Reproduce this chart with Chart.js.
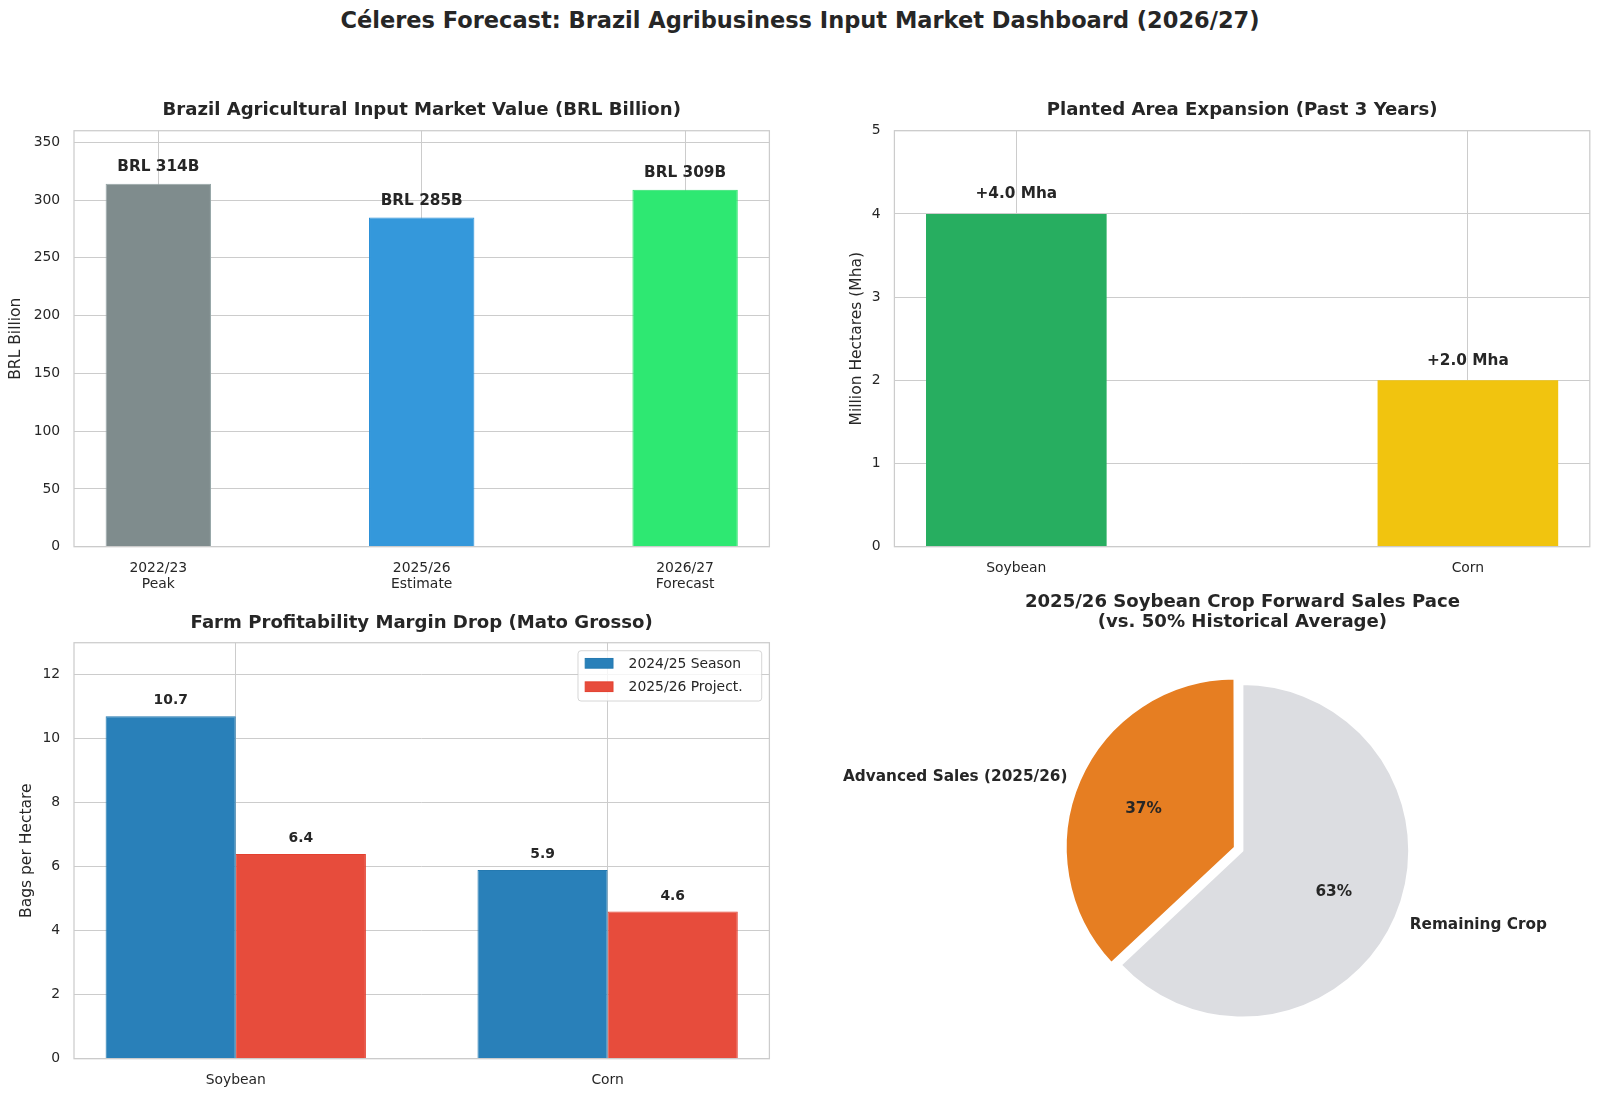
<!DOCTYPE html>
<html>
<head>
<meta charset="utf-8">
<script src="https://cdn.jsdelivr.net/npm/chart.js@4.4.1/dist/chart.umd.min.js"></script>
<style>
  html, body { margin: 0; padding: 0; background: #fff; }
  body { width: 1600px; height: 1098px; position: relative; overflow: hidden; font-family: 'DejaVu Sans', sans-serif; }
  #suptitle { position: absolute; left: 0; top: 7px; width: 1600px; text-align: center; font-weight: bold; font-size: 22.5px; line-height: 26px; color: #262626; }
  canvas { position: absolute; }
</style>
</head>
<body>
<div id="suptitle">Céleres Forecast: Brazil Agribusiness Input Market Dashboard (2026/27)</div>
<canvas id="c-market" width="800" height="510" style="left:0;top:90px"></canvas>
<canvas id="c-area" width="800" height="510" style="left:800px;top:90px"></canvas>
<canvas id="c-margin" width="800" height="508" style="left:0;top:590px"></canvas>
<canvas id="c-sales" width="800" height="508" style="left:800px;top:590px"></canvas>
<script>
/* ── Data ─────────────────────────────────────────────────────── */
const marketSeasons = ['2022/23\nPeak', '2025/26\nEstimate', '2026/27\nForecast'];
const marketValues = [314, 285, 309];
const marketColors = ['#7f8c8d', '#3498db', '#2ee872'];
const marketEdges = ['#95a5a6', '#2a90d8', '#2de06c'];

const areaCrops = ['Soybean', 'Corn'];
const areaGrowth = [4.0, 2.0];
const areaColors = ['#27ae60', '#f1c40f'];

const marginCrops = ['Soybean', 'Corn'];
const marginSeries = ['2024/25 Season', '2025/26 Project.'];
const margin2425 = [10.7, 5.9];
const margin2526 = [6.4, 4.6];

const salesLabels = ['Advanced Sales (2025/26)', 'Remaining Crop'];
const salesShares = [37, 63];
const salesColors = ['#e67e22', '#dcdde1'];

/* ── Shared style ─────────────────────────────────────────────── */
const ink = '#262626';
const gridGray = '#cccccc';
const family = "'DejaVu Sans', sans-serif";
Chart.defaults.font.family = family;
Chart.defaults.color = ink;
Chart.defaults.animation = false;

function frame() {
    return {
        id: 'frame',
        afterDatasetsDraw(chart) {
            const { ctx, chartArea: a } = chart;
            ctx.save();
            ctx.strokeStyle = gridGray;
            ctx.lineWidth = 1.25;
            ctx.strokeRect(a.left, a.top, a.right - a.left, a.bottom - a.top);
            ctx.restore();
        }
    };
}

function barLabels(format, size, gap) {
    return {
        id: 'barLabels',
        afterDatasetsDraw(chart) {
            const ctx = chart.ctx;
            ctx.save();
            ctx.font = `bold ${size}px ${family}`;
            ctx.fillStyle = ink;
            ctx.textAlign = 'center';
            ctx.textBaseline = 'middle';
            chart.data.datasets.forEach((ds, di) => {
                chart.getDatasetMeta(di).data.forEach((bar, i) => {
                    ctx.fillText(format(ds.data[i].y), bar.x, bar.y - gap);
                });
            });
            ctx.restore();
        }
    };
}

function xAxis(labels, min, max, height) {
    return {
        type: 'linear', min, max, offset: false,
        afterBuildTicks: s => { s.ticks = labels.map((_, i) => ({ value: i })); },
        afterFit: s => { s.height = height; },
        ticks: { callback: v => labels[v].split('\n'), font: { size: 13.9 }, color: ink, padding: 13, autoSkip: false, maxRotation: 0 },
        grid: { color: gridGray, drawTicks: false, offset: false },
        border: { display: false }
    };
}

function yAxis(max, step, width, text, titlePad) {
    return {
        min: 0, max,
        afterFit: s => { s.width = width; },
        ticks: { stepSize: step, includeBounds: false, font: { size: 13.9 }, color: ink, padding: 13.8 },
        grid: { color: gridGray, drawTicks: false },
        border: { display: false },
        title: { display: true, text, font: { size: 15.5 }, color: ink, padding: { top: titlePad, bottom: 0 } }
    };
}

function plotTitle(text, top, bottom, lineHeight = 1.2) {
    return { display: true, fullSize: false, text, font: { size: 18.1, weight: 'bold', lineHeight }, color: ink, padding: { top, bottom } };
}

const points = vals => vals.map((v, i) => ({ x: i, y: v }));

/* ── Input market value ───────────────────────────────────────── */
new Chart(document.getElementById('c-market'), {
    type: 'bar',
    data: {
        datasets: [{
            data: points(marketValues),
            backgroundColor: marketColors, borderColor: marketEdges, borderWidth: 1,
            barPercentage: 0.4, categoryPercentage: 1
        }]
    },
    options: {
        responsive: false, devicePixelRatio: 1,
        layout: { padding: { left: 0, right: 30.6, top: 0, bottom: 0 } },
        plugins: {
            legend: { display: false }, tooltip: { enabled: false },
            title: plotTitle('Brazil Agricultural Input Market Value (BRL Billion)', 9.1, 9.9)
        },
        scales: {
            x: xAxis(marketSeasons, -0.32, 2.32, 53.3),
            y: yAxis(360, 50, 74, 'BRL Billion', 7)
        }
    },
    plugins: [frame(), barLabels(v => `BRL ${v}B`, 15.3, 16.4)]
});

/* ── Planted area ─────────────────────────────────────────────── */
new Chart(document.getElementById('c-area'), {
    type: 'bar',
    data: {
        datasets: [{
            data: points(areaGrowth),
            backgroundColor: areaColors, borderWidth: 0,
            barPercentage: 0.4, categoryPercentage: 1
        }]
    },
    options: {
        responsive: false, devicePixelRatio: 1,
        layout: { padding: { left: 0, right: 10.2, top: 0, bottom: 0 } },
        plugins: {
            legend: { display: false }, tooltip: { enabled: false },
            title: plotTitle('Planted Area Expansion (Past 3 Years)', 9.1, 9.9)
        },
        scales: {
            x: xAxis(areaCrops, -0.27, 1.27, 53.3),
            y: yAxis(5, 1, 94.4, 'Million Hectares (Mha)', 47.8)
        }
    },
    plugins: [frame(), barLabels(v => `+${v.toFixed(1)} Mha`, 15.3, 19.5)]
});

/* ── Farm margin ──────────────────────────────────────────────── */
const marginLegend = {
    id: 'marginLegend',
    afterDraw(chart) {
        const { ctx, chartArea: a } = chart;
        const w = 183.7, h = 50.3;
        const left = a.right - 7.7 - w, top = a.top + 8;
        ctx.save();
        ctx.beginPath();
        ctx.roundRect(left, top, w, h, 3);
        ctx.fillStyle = 'rgba(255,255,255,0.8)';
        ctx.fill();
        ctx.strokeStyle = 'rgba(204,204,204,0.8)';
        ctx.lineWidth = 1;
        ctx.stroke();
        ctx.font = `13.9px ${family}`;
        ctx.textAlign = 'left';
        ctx.textBaseline = 'middle';
        chart.data.datasets.forEach((ds, i) => {
            const cy = top + 12.6 + i * 23.4;
            ctx.fillStyle = ds.backgroundColor;
            ctx.fillRect(left + 7.2, cy - 4.85, 27.8, 9.7);
            ctx.strokeStyle = ds.borderColor;
            ctx.strokeRect(left + 7.2, cy - 4.85, 27.8, 9.7);
            ctx.fillStyle = ink;
            ctx.fillText(ds.label, left + 50.6, cy + 1);
        });
        ctx.restore();
    }
};

new Chart(document.getElementById('c-margin'), {
    type: 'bar',
    data: {
        datasets: [
            { label: marginSeries[0], data: points(margin2425), backgroundColor: '#2980b9', borderColor: '#2479b0', borderWidth: 1, barPercentage: 1, categoryPercentage: 0.7 },
            { label: marginSeries[1], data: points(margin2526), backgroundColor: '#e74c3c', borderColor: '#e3402f', borderWidth: 1, barPercentage: 1, categoryPercentage: 0.7 }
        ]
    },
    options: {
        responsive: false, devicePixelRatio: 1,
        layout: { padding: { left: 0, right: 30.6, top: 0, bottom: 0 } },
        plugins: {
            legend: { display: false }, tooltip: { enabled: false },
            title: plotTitle('Farm Profitability Margin Drop (Mato Grosso)', 22.4, 8.6)
        },
        scales: {
            x: xAxis(marginCrops, -0.435, 1.435, 39.3),
            y: yAxis(13, 2, 74, 'Bags per Hectare', 17.2)
        }
    },
    plugins: [frame(), barLabels(v => v.toFixed(1), 13.9, 15.5), marginLegend]
});

/* ── Forward sales pie ────────────────────────────────────────── */
const pieLabels = {
    id: 'pieLabels',
    afterDatasetsDraw(chart) {
        const ctx = chart.ctx;
        const ds = chart.data.datasets[0];
        ctx.save();
        ctx.font = `bold 15.3px ${family}`;
        ctx.fillStyle = ink;
        ctx.textBaseline = 'middle';
        chart.getDatasetMeta(0).data.forEach((arc, i) => {
            const { x, y, startAngle, endAngle, outerRadius } = arc.getProps(['x', 'y', 'startAngle', 'endAngle', 'outerRadius'], true);
            const mid = (startAngle + endAngle) / 2;
            const off = (ds.offset[i] || 0) / 4;
            const r = outerRadius - 1;
            const cx = x + Math.cos(mid) * off, cy = y + Math.sin(mid) * off + 1.5;
            ctx.textAlign = 'center';
            ctx.fillText(`${ds.data[i]}%`, cx + Math.cos(mid) * r * 0.6, cy + Math.sin(mid) * r * 0.6);
            ctx.textAlign = Math.cos(mid) < 0 ? 'right' : 'left';
            ctx.fillText(chart.data.labels[i], cx + Math.cos(mid) * r * 1.1, cy + Math.sin(mid) * r * 1.1);
        });
        ctx.restore();
    }
};

new Chart(document.getElementById('c-sales'), {
    type: 'pie',
    data: {
        labels: salesLabels,
        datasets: [{ data: salesShares, backgroundColor: salesColors, borderColor: '#ffffff', borderWidth: 2, offset: [33, 0] }]
    },
    options: {
        responsive: false, devicePixelRatio: 1,
        rotation: -3.6 * salesShares[0],
        radius: 166.8,
        layout: { padding: { left: 84.8, right: 0, top: 0, bottom: 39.1 } },
        plugins: {
            legend: { display: false }, tooltip: { enabled: false },
            title: plotTitle(['2025/26 Soybean Crop Forward Sales Pace', '(vs. 50% Historical Average)'], 2.7, 10, 1.105)
        }
    },
    plugins: [pieLabels]
});
</script>
</body>
</html>
